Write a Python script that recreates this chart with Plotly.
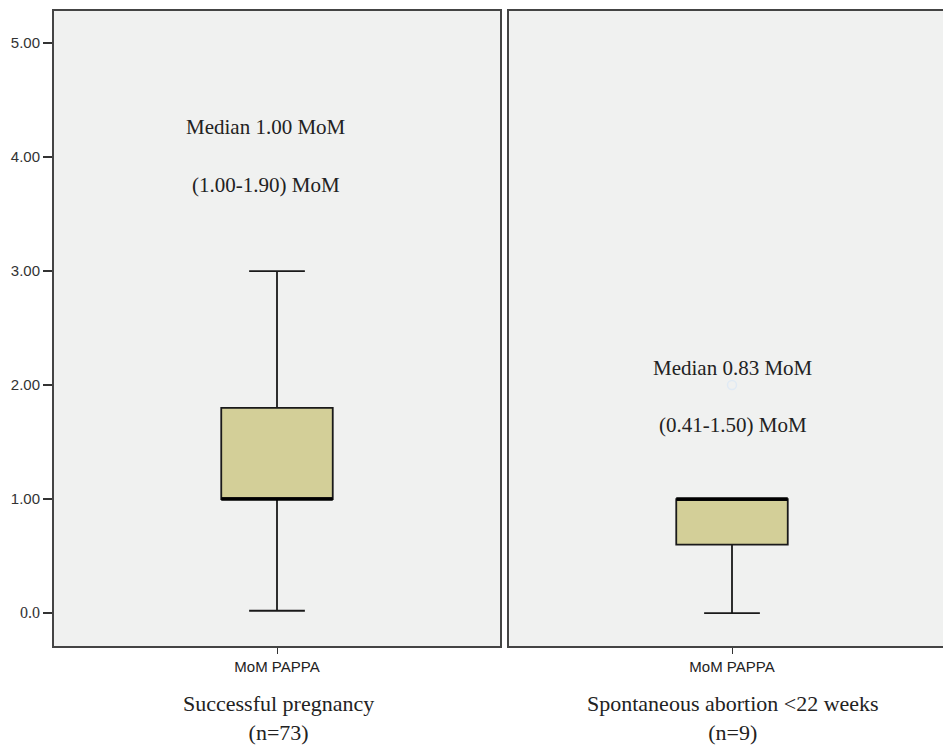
import plotly.graph_objects as go

# ---- data ----
group_names = ["Successful pregnancy", "Spontaneous abortion <22 weeks"]
group_n = ["(n=73)", "(n=9)"]
variable = "MoM PAPPA"
lower_fence = [0.02, 0.0]
q1 = [1.00, 0.60]
median = [1.00, 1.00]
q3 = [1.80, 1.00]
upper_fence = [3.00, 1.00]
outliers = [[], [2.00]]
median_text = ["Median 1.00 MoM", "Median 0.83 MoM"]
range_text = ["(1.00-1.90) MoM", "(0.41-1.50) MoM"]
ytick_vals = [0, 1, 2, 3, 4, 5]
ytick_text = ['<span style="font-family:Liberation Serif;font-size:16px">0.0</span>',
              "1.00", "2.00", "3.00", "4.00", "5.00"]

W, H = 943, 746
BOX_W = 0.5
FILL = "#d3cf98"
BG = "#f0f1f0"
EDGE = "#444444"

def py(px):
    return 1 - px / H

fig = go.Figure()
for i in range(2):
    xa = "x" if i == 0 else "x2"
    ya = "y" if i == 0 else "y2"
    fig.add_trace(go.Box(
        x=[0], q1=[q1[i]], median=[median[i]], q3=[q3[i]],
        lowerfence=[lower_fence[i]], upperfence=[upper_fence[i]],
        width=BOX_W, whiskerwidth=0.5,
        fillcolor=FILL, line=dict(color="#1a1a1a", width=1.8),
        boxpoints=False, hoverinfo="skip", showlegend=False,
        xaxis=xa, yaxis=ya,
    ))
    # thick median line
    fig.add_trace(go.Scatter(
        x=[-BOX_W / 2, BOX_W / 2], y=[median[i], median[i]],
        mode="lines", line=dict(color="black", width=3.5),
        hoverinfo="skip", showlegend=False, xaxis=xa, yaxis=ya,
    ))
    if outliers[i]:
        fig.add_trace(go.Scatter(
            x=[0] * len(outliers[i]), y=outliers[i], mode="markers",
            marker=dict(symbol="circle-open", size=9, color="#e0eaf4", line=dict(width=1.5)),
            hoverinfo="skip", showlegend=False, xaxis=xa, yaxis=ya,
        ))

ydom = [py(646), py(11)]
yrange = [-0.289, 5.281]
axis_common = dict(showgrid=False, zeroline=False)
xtickfont = dict(family="Liberation Sans, Arial", size=15, color="#222")

fig.update_layout(
    width=W, height=H,
    margin=dict(l=0, r=0, t=0, b=0),
    paper_bgcolor="white", plot_bgcolor=BG,
    font=dict(family="Liberation Sans, Arial", color="#222"),
    xaxis=dict(domain=[54 / W, 500 / W], range=[-1, 1], **axis_common,
               showline=True, mirror=True, linecolor=EDGE, linewidth=2,
               tickvals=[0], ticktext=[variable], ticks="outside", ticklen=6,
               tickcolor="#333", tickfont=xtickfont),
    xaxis2=dict(domain=[509 / W, 1], range=[-1, (W - 509) / 223 - 1], **axis_common,
                showline=True, mirror=True, linecolor=EDGE, linewidth=2,
                tickvals=[0], ticktext=[variable], ticks="outside", ticklen=6,
                tickcolor="#333", tickfont=xtickfont, anchor="y2"),
    yaxis=dict(domain=ydom, range=yrange, **axis_common,
               showline=True, mirror=True, linecolor=EDGE, linewidth=2,
               tickvals=ytick_vals, ticktext=ytick_text, ticks="outside", ticklen=9,
               tickcolor="#333", tickwidth=2,
               tickfont=dict(family="Liberation Sans, Arial", size=15, color="#333")),
    yaxis2=dict(domain=ydom, range=yrange, **axis_common, anchor="x2",
                showline=True, mirror=False, linecolor=EDGE, linewidth=2,
                showticklabels=False, ticks=""),
)

serif_a = dict(family="Liberation Serif, Times New Roman", size=21, color="#222")
serif_b = dict(family="Liberation Serif, Times New Roman", size=22, color="#222")
centers = [266, 733]
for i in range(2):
    fig.add_annotation(text=median_text[i], x=centers[i] / W, y=py(127 if i == 0 else 368),
                       xref="paper", yref="paper", showarrow=False, font=serif_a,
                       xanchor="center", yanchor="middle")
    fig.add_annotation(text=range_text[i], x=centers[i] / W, y=py(185 if i == 0 else 425),
                       xref="paper", yref="paper", showarrow=False, font=serif_a,
                       xanchor="center", yanchor="middle")
    gx = [278, 733][i]
    fig.add_annotation(text=group_names[i] + "<br>" + group_n[i], x=gx / W, y=0,
                       xref="paper", yref="paper", showarrow=False, font=serif_b,
                       xanchor="center", yanchor="bottom", borderpad=0)

fig.write_html("out.html", config={"displayModeBar": False},
               post_script="document.body.style.margin='0';document.body.style.overflow='hidden';")
